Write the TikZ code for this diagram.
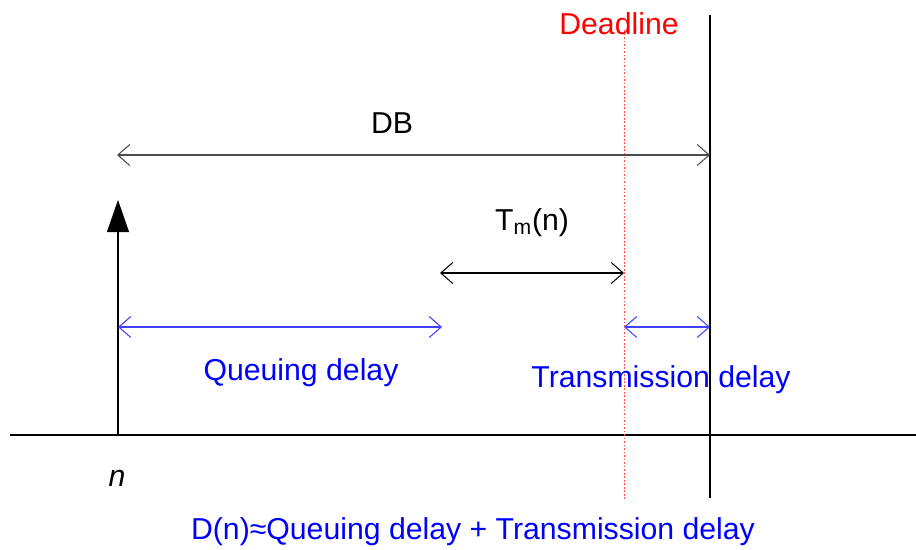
\documentclass[tikz,border=0pt]{standalone}
\usepackage{fontspec}
\setmainfont{Liberation Sans}
\usetikzlibrary{arrows.meta}

\begin{document}
\begin{tikzpicture}[x=0.02cm,y=-0.02cm,
  lbl/.style={font=\fontsize{17.2}{20}\selectfont,inner sep=0pt,anchor=base},
  span/.style={{Straight Barb[length=2.4mm,width=4.2mm]}-{Straight Barb[length=2.4mm,width=4.2mm]},line width=0.6pt}]%
\useasboundingbox (0,0) rectangle (916,549);%
% axis and time marks
\coordinate (ax_l) at (10,435);%
\coordinate (ax_r) at (916,435);%
\coordinate (db_top) at (710,15);%
\coordinate (db_bot) at (710,498);%
\coordinate (dl_top) at (624,30);%
\coordinate (dl_bot) at (624,500);%
\coordinate (arr_bot) at (118,435);%
\coordinate (arr_top) at (118,200);%
\draw[line width=0.6pt] (ax_l) -- (ax_r);%
\draw[line width=0.6pt] (db_top) -- (db_bot);%
\draw[red!70,line width=0.4pt,dash pattern=on 1pt off 1pt] (dl_top) -- (dl_bot);%
\draw[line width=0.6pt,-{Triangle[length=6.4mm,width=4.4mm]}] (arr_bot) -- (arr_top);%
% spans
\coordinate (db_l) at (117,155);%
\coordinate (db_r) at (710,155);%
\coordinate (tm_l) at (440,273);%
\coordinate (tm_r) at (624,273);%
\coordinate (qd_l) at (118,327);%
\coordinate (qd_r) at (442,327);%
\coordinate (td_l) at (624,327);%
\coordinate (td_r) at (710,327);%
\draw[span,black!70] (db_l) -- (db_r);%
\draw[span,black] (tm_l) -- (tm_r);%
\draw[span,blue!75] (qd_l) -- (qd_r);%
\draw[span,blue!75] (td_l) -- (td_r);%
% labels
\node[lbl,red] (deadline) at (619,34) {Deadline};%
\node[lbl] (db) at (392,133) {DB};%
\node[lbl] (tm) at (532,230) {T\textsubscript{m}(n)};%
\node[lbl,blue] (queuing) at (301,380) {Queuing delay};%
\node[lbl,blue] (trans) at (661,387) {Transmission delay};%
\node[lbl] (n) at (117,486) {\textit{n}};%
\node[lbl,blue] (sum) at (473,539) {D(n)≈Queuing delay + Transmission delay};%
\end{tikzpicture}
\end{document}
